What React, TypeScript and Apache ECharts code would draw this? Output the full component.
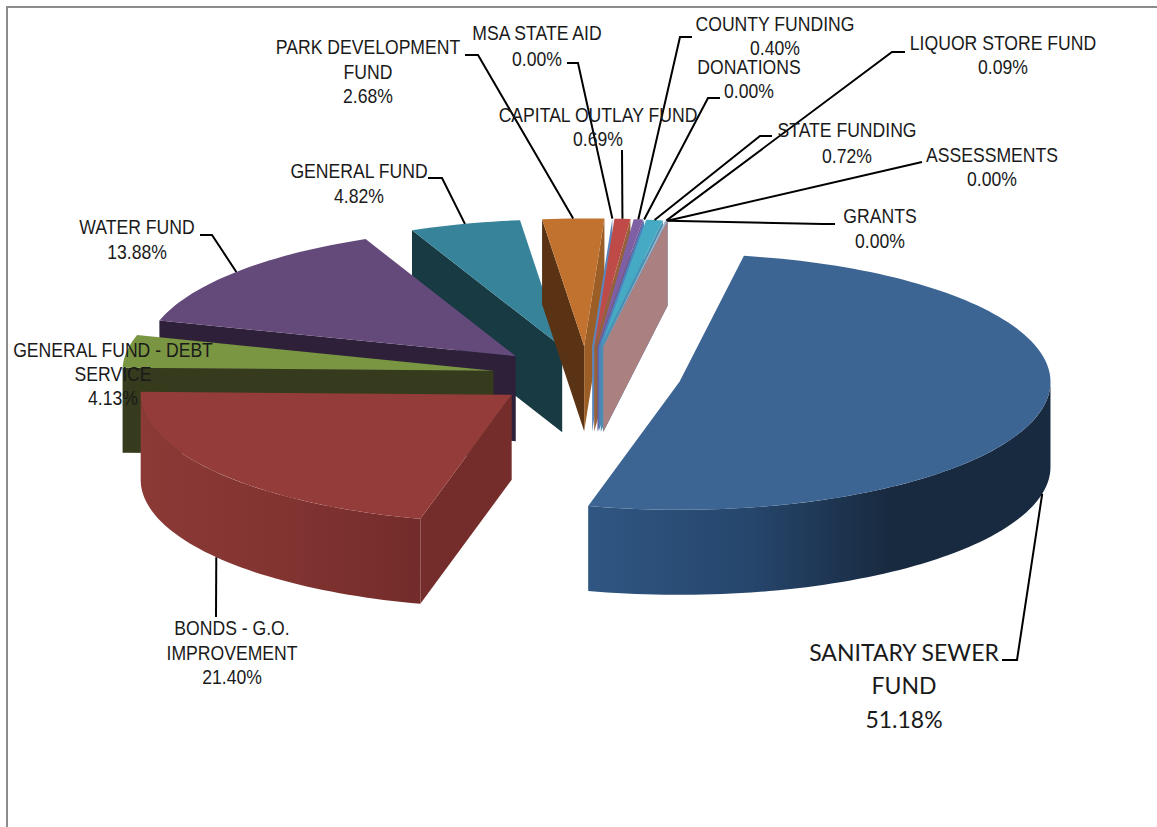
import React, { useEffect, useRef } from "react";
import * as echarts from "echarts";

const categories = [
  "SANITARY SEWER\nFUND", "BONDS - G.O.\nIMPROVEMENT", "GENERAL FUND - DEBT\nSERVICE", "WATER FUND",
  "GENERAL FUND", "PARK DEVELOPMENT\nFUND", "MSA STATE AID", "CAPITAL OUTLAY FUND", "COUNTY FUNDING",
  "DONATIONS", "STATE FUNDING", "LIQUOR STORE FUND", "ASSESSMENTS", "GRANTS",
];
const values = [51.18, 21.4, 4.13, 13.88, 4.82, 2.68, 0, 0.69, 0.4, 0, 0.72, 0.09, 0, 0];

// painter's order: back slices first
const drawOrder = [4, 5, 6, 7, 8, 9, 10, 11, 12, 13, 3, 2, 1, 0];

const topColors = ["#3d6594", "#943c39", "#7a9642", "#64497b", "#37849a", "#c1722f", "#4f81bd", "#be4b48", "#7f5fa3", "#4bacc6", "#46aac5", "#9bb4cc", "#7f9fd0", "#aa8080"];
const startColors = ["#1a2f47", "#752d2b", "#353b1c", "#2e2038", "#173a43", "#5a3315", "#2c4d75", "#7a2f2c", "#4d3b62", "#205867", "#205867", "#9c6428", "#4f6fa0", "#aa8080"];
const endColors = ["#1a2f47", "#752d2b", "#353b1c", "#2e2038", "#173a43", "#9b5e26", "#5b86bd", "#96603a", "#6d5590", "#4f81bd", "#4a8fb0", "#8fa6c0", "#4f81bd", "#aa8080"];
const rimStops: [number, string][][] = [
  [[0, "#2f5682"], [0.35, "#26466c"], [0.65, "#182a40"], [1, "#182a40"]],
  [[0, "#8b3a36"], [0.5, "#823431"], [1, "#732c2b"]],
];

// [centre x, top y, line height] of each label
const labelPlace = [
  [904, 635, 33.5], [232, 616, 24.5], [113, 338, 24], [137, 214, 25.5], [359, 159, 25], [368, 35, 24.5], [537, 20, 26],
  [598, 103, 24], [775, 12, 24], [749, 55, 24], [847, 117, 26], [1003, 31, 24], [992, 143, 24], [880, 204, 25],
];
// leader-line start points (the last point is taken from the slice)
const leaderPlace: (number[][] | null)[] = [
  [[1002, 660], [1017, 660]], [[216, 617]], null, [[200, 235], [212, 235]], [[428, 178], [442, 178]], [[465, 55], [478, 55]],
  [[567, 63], [578, 63]], [[622, 150]], [[692, 37], [680, 37]], [[720, 98], [708, 98]], [[772, 136], [760, 136]],
  [[905, 52], [892, 52]], [[922, 162]], [[835, 224], [823, 224]],
];

const CX = 587, CY = 375, RX = 371, RY = 128, DEPTH = 85, EXPLODE = 0.255, START = -80;
const rad = (d: number) => (d * Math.PI) / 180;

function sliceAngles(i: number) {
  let a = START;
  for (let k = 0; k < i; k++) a += values[k] * 3.6;
  return [a, a + values[i] * 3.6];
}
function apexOf(i: number) {
  const [a, b] = sliceAngles(i);
  const m = rad((a + b) / 2);
  const backLift = Math.sin(m) < 0 ? 4 * -Math.sin(m) : 0;
  return [CX + EXPLODE * RX * Math.cos(m), CY + EXPLODE * RY * Math.sin(m) + backLift];
}
function rimPoint(i: number, t: number, dy = 0) {
  const [ax, ay] = apexOf(i);
  return [ax + RX * Math.cos(rad(t)), ay + RY * Math.sin(rad(t)) + dy];
}
function arc(i: number, a: number, b: number, dy = 0) {
  const pts: number[][] = [];
  const n = Math.max(2, Math.ceil(Math.abs(b - a) / 1.5));
  for (let k = 0; k <= n; k++) pts.push(rimPoint(i, a + ((b - a) * k) / n, dy));
  return pts;
}
function leaderEnd(i: number) {
  const [a, b] = sliceAngles(i);
  const m = (a + b) / 2;
  return rimPoint(i, m, Math.sin(rad(m)) > 0 ? DEPTH : 0);
}

function renderSlice(_params: any, api: any) {
  const i = api.value(0) as number;
  const [a, b] = sliceAngles(i);
  const apex = apexOf(i);
  const children: any[] = [];
  const poly = (points: number[][], fill: any) =>
    children.push({ type: "polygon", shape: { points }, style: { fill, stroke: "none" } });
  const cutFace = (t: number, fill: string) => {
    const p = rimPoint(i, t);
    poly([apex, p, [p[0], p[1] + DEPTH], [apex[0], apex[1] + DEPTH]], fill);
  };
  if (Math.cos(rad(a)) < 0) cutFace(a, startColors[i]);
  if (Math.cos(rad(b)) > 0) cutFace(b, endColors[i]);
  // outer rim: only the front half of the ellipse shows
  const from = Math.max(a, 0);
  const to = Math.min(b, 180);
  if (to > from && rimStops[i]) {
    const upper = arc(i, from, to);
    const lower = arc(i, to, from, DEPTH);
    const grad = new echarts.graphic.LinearGradient(
      0, 0, 1, 0,
      rimStops[i].map(([offset, color]) => ({ offset, color })),
    );
    poly(upper.concat(lower), grad);
  }
  if (b > a) poly([apex, ...arc(i, a, b)], topColors[i]);
  return { type: "group", children };
}

const pct = (v: number) => v.toFixed(2) + "%";

export default function App() {
  const ref = useRef<HTMLDivElement>(null);
  useEffect(() => {
    const chart = echarts.init(ref.current!, undefined, { renderer: "svg" });
    const graphics: any[] = [
      { type: "polyline", silent: true, shape: { points: [[7, 827], [7, 7], [1157, 7]] }, style: { fill: "none", stroke: "#8c8c8c", lineWidth: 2 } },
    ];
    categories.forEach((name, i) => {
      const lead = leaderPlace[i];
      if (lead) {
        graphics.push({
          type: "polyline", silent: true, z: 20,
          shape: { points: [...lead, leaderEnd(i)] },
          style: { fill: "none", stroke: "#000", lineWidth: 2 },
        });
      }
      const [x, y, lh] = labelPlace[i];
      graphics.push({
        type: "text", silent: true, z: 21, x, y,
        scaleX: i === 0 ? 1 : 0.88,
        style: {
          text: name + "\n" + pct(values[i]),
          fill: "#1a1a1a",
          textAlign: "center",
          textVerticalAlign: "top",
          lineHeight: lh,
          font: i === 0 ? '23px "Lato", sans-serif' : '20px "Liberation Sans", sans-serif',
        },
      });
    });
    chart.setOption({
      animation: false,
      backgroundColor: "#ffffff",
      series: [
        {
          type: "custom",
          coordinateSystem: "none",
          silent: true,
          renderItem: renderSlice,
          data: drawOrder.map((i) => [i, values[i]]),
        },
      ],
      graphic: graphics,
    });
    return () => chart.dispose();
  }, []);
  return <div ref={ref} style={{ position: "fixed", left: 0, top: 0, width: 1157, height: 827 }} />;
}
